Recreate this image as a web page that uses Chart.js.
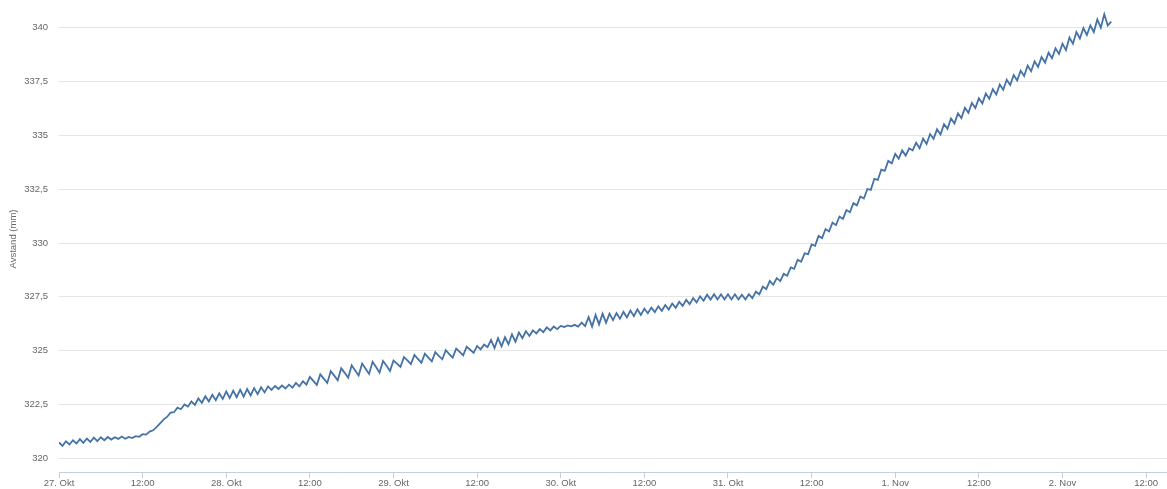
<!DOCTYPE html>
<html><head><meta charset="utf-8">
<script src="https://cdn.jsdelivr.net/npm/chart.js@4"></script>
<style>html,body{margin:0;padding:0;background:#fff;} #wrap{width:1167px;height:489px;}</style>
</head><body><div id="wrap"><canvas id="c" width="1167" height="489"></canvas></div>
<script>
// Distance readings (mm), one value every half hour
const okt27 = [
320.74, 320.58, 320.79, 320.64, 320.84, 320.69, 320.89, 320.72, 320.92, 320.76, 320.96, 320.80,
320.98, 320.84, 320.99, 320.87, 320.98, 320.90, 321.01, 320.91, 320.99, 320.94, 321.03, 321.00,
321.12, 321.10, 321.24, 321.30, 321.45, 321.62, 321.80, 321.92, 322.12, 322.14, 322.35, 322.28,
322.50, 322.40, 322.64, 322.48, 322.78, 322.58, 322.88, 322.64, 322.95, 322.70, 323.02, 322.76];
const okt28 = [
323.10, 322.80, 323.14, 322.84, 323.18, 322.86, 323.22, 322.92, 323.26, 322.98, 323.30, 323.06,
323.34, 323.18, 323.36, 323.22, 323.38, 323.24, 323.42, 323.28, 323.50, 323.34, 323.58, 323.42,
323.78, 323.60, 323.41, 323.90, 323.70, 323.50, 324.05, 323.84, 323.62, 324.18, 323.97, 323.74,
324.32, 324.08, 323.85, 324.40, 324.16, 323.92, 324.48, 324.24, 323.98, 324.52, 324.30, 324.06];
const okt29 = [
324.54, 324.40, 324.25, 324.70, 324.55, 324.38, 324.80, 324.62, 324.44, 324.86, 324.68, 324.50,
324.93, 324.76, 324.60, 325.02, 324.84, 324.68, 325.10, 324.94, 324.78, 325.18, 325.04, 324.90,
325.22, 325.06, 325.28, 325.16, 325.50, 325.12, 325.58, 325.20, 325.62, 325.30, 325.76, 325.42,
325.84, 325.58, 325.90, 325.68, 325.94, 325.80, 326.00, 325.86, 326.08, 325.94, 326.12, 326.00];
const okt30 = [
326.15, 326.10, 326.17, 326.13, 326.20, 326.12, 326.30, 326.14, 326.56, 326.12, 326.66, 326.22,
326.72, 326.30, 326.72, 326.42, 326.74, 326.48, 326.80, 326.54, 326.86, 326.60, 326.92, 326.66,
326.95, 326.74, 327.00, 326.79, 327.06, 326.85, 327.12, 326.91, 327.19, 326.99, 327.27, 327.08,
327.36, 327.16, 327.44, 327.24, 327.52, 327.32, 327.60, 327.37, 327.62, 327.38, 327.62, 327.38];
const okt31 = [
327.62, 327.38, 327.62, 327.38, 327.60, 327.38, 327.62, 327.44, 327.74, 327.62, 327.97, 327.86,
328.24, 328.06, 328.37, 328.23, 328.57, 328.48, 328.87, 328.80, 329.22, 329.13, 329.52, 329.48,
329.93, 329.87, 330.33, 330.23, 330.65, 330.54, 330.95, 330.83, 331.23, 331.12, 331.53, 331.43,
331.85, 331.75, 332.16, 332.07, 332.51, 332.47, 332.98, 332.93, 333.41, 333.35, 333.81, 333.70];
const nov01 = [
334.14, 333.92, 334.30, 334.06, 334.40, 334.30, 334.66, 334.40, 334.85, 334.60, 335.06, 334.84,
335.28, 335.04, 335.52, 335.30, 335.78, 335.55, 336.02, 335.80, 336.28, 336.05, 336.50, 336.27,
336.72, 336.48, 336.94, 336.70, 337.14, 336.90, 337.36, 337.12, 337.58, 337.34, 337.80, 337.55,
338.00, 337.76, 338.24, 337.98, 338.44, 338.18, 338.64, 338.38, 338.84, 338.58, 339.04, 338.78];
const nov02 = [
339.26, 338.96, 339.54, 339.26, 339.80, 339.50, 339.98, 339.66, 340.10, 339.80, 340.38, 340.00,
340.62, 340.10, 340.28];

const sampleStepHours = 0.5;           // time between readings, hours since 27. Okt 00:00
const xTickHours  = [0, 12, 24, 36, 48, 60, 72, 84, 96, 108, 120, 132, 144, 156];
const xTickLabels = ['27. Okt','12:00','28. Okt','12:00','29. Okt','12:00','30. Okt','12:00',
                     '31. Okt','12:00','1. Nov','12:00','2. Nov','12:00'];
const yTickValues = [320, 322.5, 325, 327.5, 330, 332.5, 335, 337.5, 340];
const yTitle = 'Avstand (mm)';

const series = [].concat(okt27, okt28, okt29, okt30, okt31, nov01, nov02);
const points = series.map((v, i) => ({ x: i * sampleStepHours, y: v }));

const FONT = { family: '"Liberation Sans", Arial, sans-serif', size: 9.5 };

new Chart(document.getElementById('c'), {
  type: 'line',
  data: { datasets: [{
    data: points,
    borderColor: '#4572a7',
    borderWidth: 1.8,
    pointRadius: 0,
    tension: 0,
    fill: false
  }]},
  options: {
    responsive: false,
    animation: false,
    devicePixelRatio: 1,
    layout: { padding: { top: 6, left: 0, right: 0, bottom: 0 } },
    plugins: { legend: { display: false }, tooltip: { enabled: false } },
    scales: {
      x: {
        type: 'linear',
        min: 0, max: 159,
        afterBuildTicks: s => { s.ticks = xTickHours.map(v => ({ value: v })); },
        afterFit: s => { s.height = 17; },
        ticks: {
          autoSkip: false, maxRotation: 0, padding: 0,
          color: '#666', font: FONT,
          callback: (v) => { const i = xTickHours.indexOf(v); return i >= 0 ? xTickLabels[i] : ''; }
        },
        grid: { drawOnChartArea: false, drawTicks: true, tickLength: 6, color: '#c0d0e0' },
        border: { display: true, color: '#c0d0e0', width: 1 }
      },
      y: {
        type: 'linear',
        min: 319.364, max: 341.008,
        afterBuildTicks: s => { s.ticks = yTickValues.map(v => ({ value: v })); },
        afterFit: s => { s.width = 59; s.paddingTop = 0; s.paddingBottom = 0; },
        ticks: {
          padding: 11, color: '#666', font: FONT,
          callback: (v) => String(v).replace('.', ',')
        },
        grid: { color: '#e6e6e6', drawTicks: false, lineWidth: 1 },
        border: { display: false },
        title: { display: true, text: yTitle, color: '#666', font: FONT, padding: { top: 8, bottom: 0 } }
      }
    }
  }
});
</script>
</body></html>
